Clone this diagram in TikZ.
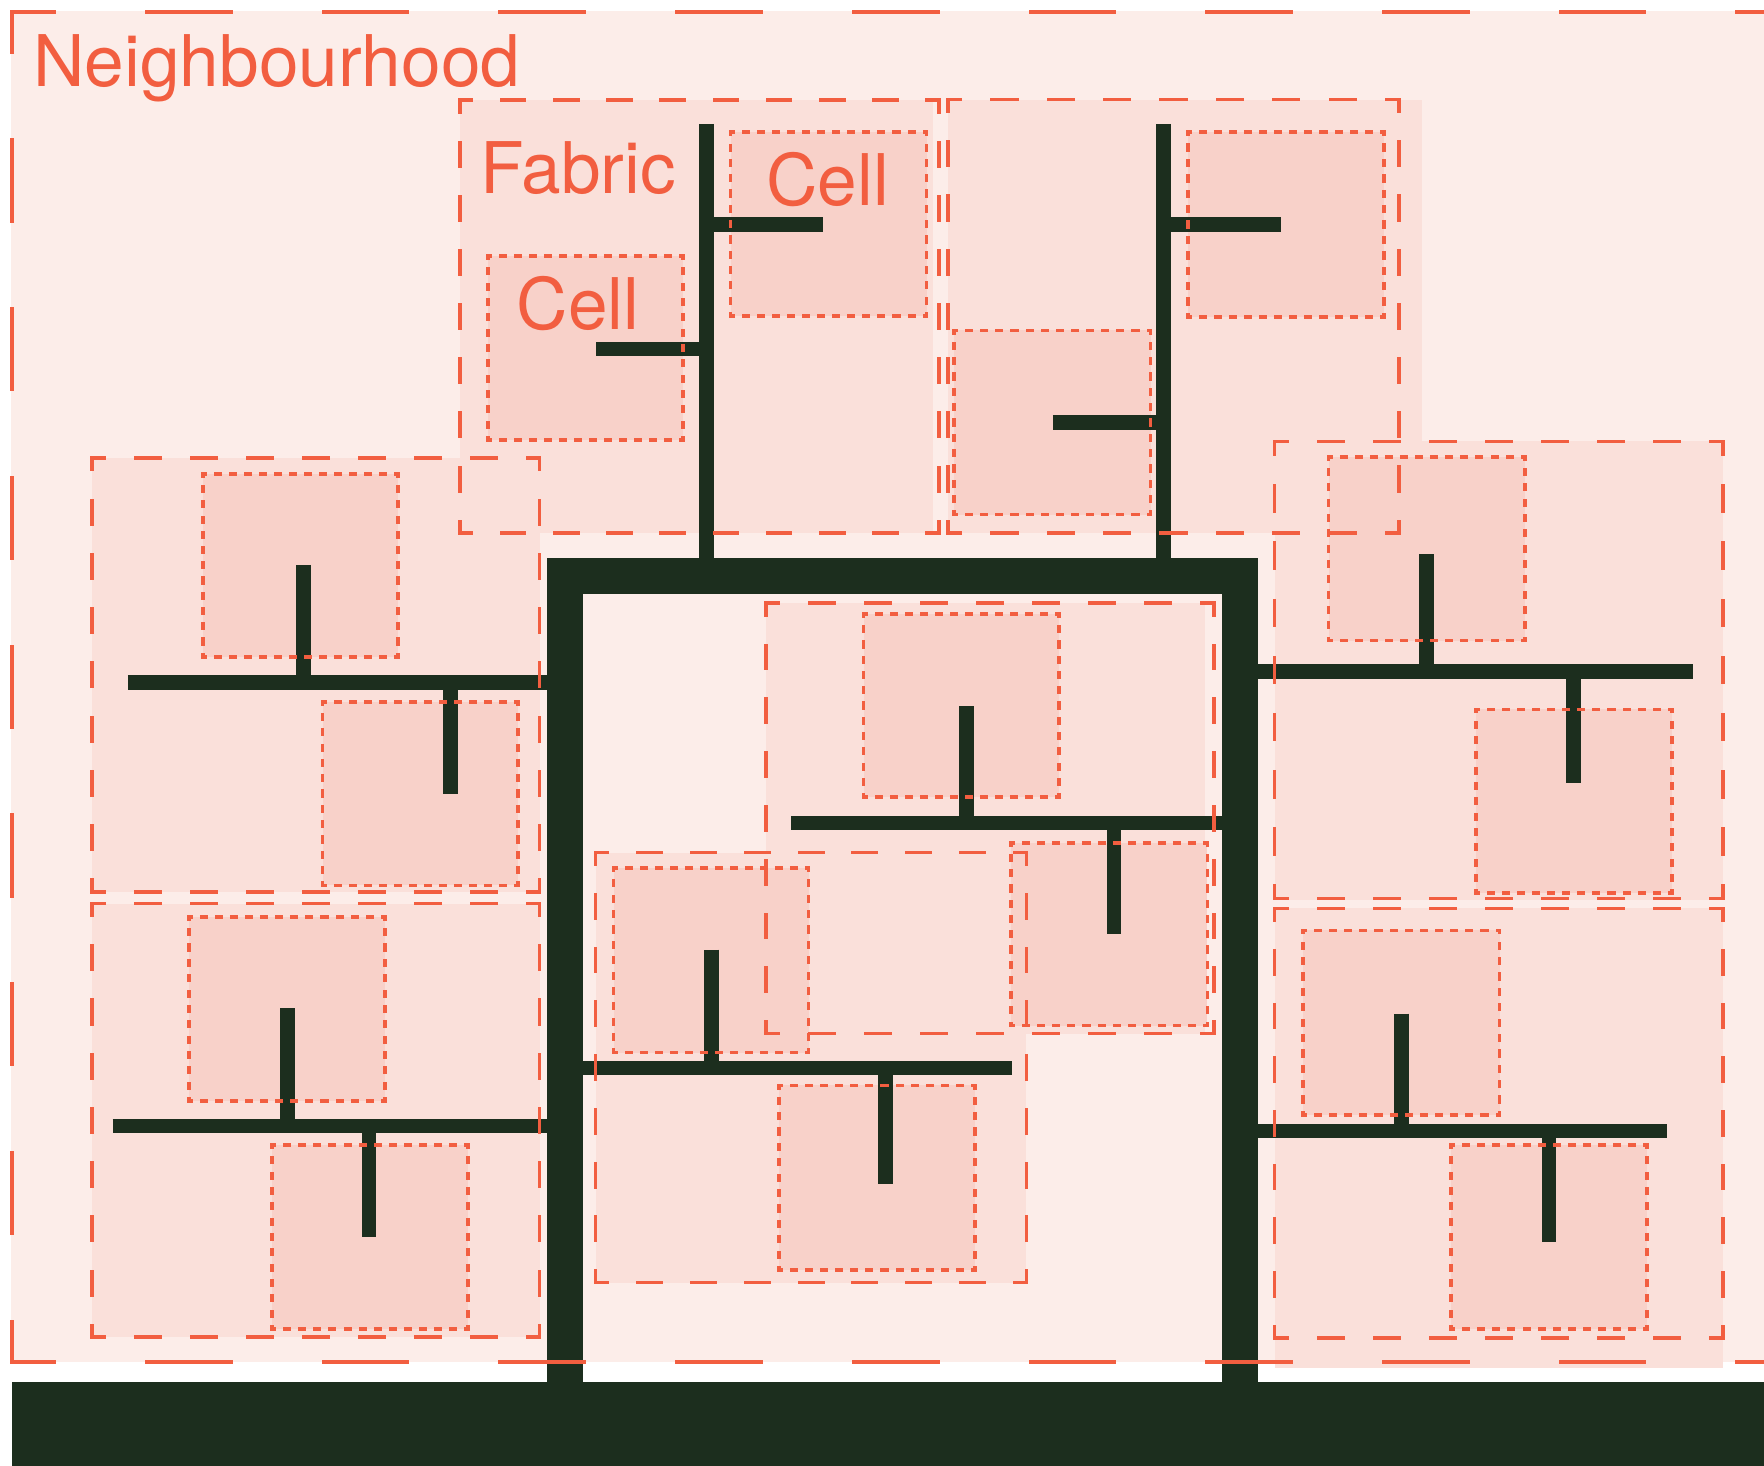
\documentclass[tikz,border=0pt]{standalone}
\usepackage{fontspec}
\setmainfont{TeX Gyre Heros}
\definecolor{nbfill}{HTML}{FCEDE9}
\definecolor{blkfill}{HTML}{FAE0DA}
\definecolor{cellfill}{HTML}{F8D1C9}
\definecolor{accent}{HTML}{F25E40}
\definecolor{ink}{HTML}{1C2E1E}
\tikzset{
  border/.style={draw=accent, line width=0.032cm},
  branch/.style={draw=ink, line width=0.13cm},
  frameline/.style={draw=ink, line width=0.32cm, line join=miter},
  lbl/.style={text=accent, font=\fontsize{18}{22}\selectfont, inner sep=0pt, anchor=base west},
}
% one side of a box, dashes aligned to the corners
\newcommand\cside[6]{%
  \pgfmathsetmacro\csL{abs(#3-#1)+abs(#4-#2)}%
  \pgfmathsetmacro\csN{max(1,round(\csL/(#5+#6)))}%
  \pgfmathsetmacro\csS{\csL/(\csN*(#5+#6))}%
  \pgfmathsetmacro\csOn{(#5*\csS-3.2)*0.01}%
  \pgfmathsetmacro\csOff{(#6*\csS+3.2)*0.01}%
  \pgfmathsetmacro\csPh{0.5*\csOn}%
  \draw[border, line cap=rect, dash pattern=on \csOn cm off \csOff cm, dash phase=\csPh cm] (#1,#2) -- (#3,#4);%
}
\newcommand\cbox[6]{%
  \cside{#1}{#2}{#3}{#2}{#5}{#6}%
  \cside{#3}{#2}{#3}{#4}{#5}{#6}%
  \cside{#1}{#4}{#3}{#4}{#5}{#6}%
  \cside{#1}{#2}{#1}{#4}{#5}{#6}%
}
\newcommand\blockbox[4]{\cbox{#1}{#2}{#3}{#4}{25}{25}}
\newcommand\cellbox[4]{\cbox{#1}{#2}{#3}{#4}{7.1}{6.2}}
\begin{document}
\begin{tikzpicture}[x=0.01cm, y=-0.01cm]
\useasboundingbox (0,0) rectangle (1568,1303);
\clip (0,0) rectangle (1568,1303);
% ---------- fills ----------
\fill[nbfill] (10,9.5) rectangle (1600,1210.4);
\fill[blkfill] (408.9,89) rectangle (829.6,474);      % fabric 1
\fill[blkfill] (842.7,88.5) rectangle (1264,474);     % fabric 2
\fill[blkfill] (81.9,407) rectangle (480.4,792.7);    % left block 1
\fill[blkfill] (81.9,803.2) rectangle (480.4,1188.7); % left block 2
\fill[blkfill] (1133,392.4) rectangle (1531.6,800);   % right block 1
\fill[blkfill] (1133,806.7) rectangle (1531.6,1215.7);% right block 2
\fill[blkfill] (681.1,536.2) rectangle (1071.3,918.7);% middle block A
\fill[blkfill] (529.5,757.8) rectangle (912.4,1140.1);% middle block B
% cells
\fill[cellfill] (433.8,227.6) rectangle (607.1,391.1);
\fill[cellfill] (649.5,117.6) rectangle (823.7,280.9);
\fill[cellfill] (1056,117.5) rectangle (1230,281.8);
\fill[cellfill] (848,293.7) rectangle (1022.8,457.4);
\fill[cellfill] (180.3,421.2) rectangle (353.7,583.8);
\fill[cellfill] (286.7,623.8) rectangle (460.3,787);
\fill[cellfill] (168,815) rectangle (342,978.7);
\fill[cellfill] (242,1017.8) rectangle (416,1181.3);
\fill[cellfill] (1181,406) rectangle (1355.3,569.5);
\fill[cellfill] (1312,630.5) rectangle (1486,794);
\fill[cellfill] (1158,827) rectangle (1333,991.1);
\fill[cellfill] (1290,1017.8) rectangle (1464,1181.3);
\fill[cellfill] (767.6,545.7) rectangle (941.1,708.6);
\fill[cellfill] (898.6,749.2) rectangle (1073.2,911.7);
\fill[cellfill] (545.4,771.5) rectangle (718.8,935.6);
\fill[cellfill] (692.2,964.8) rectangle (866.8,1128.9);
% ---------- dark structure ----------
\fill[ink] (11,1228.7) rectangle (1600,1320);
\draw[frameline] (502.6,1240) -- (502.6,511.8) -- (1102.4,511.8) -- (1102.4,1240);
% fabric 1
\draw[branch] (627.8,110.2) -- (627.8,511.8);
\draw[branch] (627.8,199.6) -- (731.9,199.6);
\draw[branch] (529.8,310.3) -- (627.8,310.3);
% fabric 2
\draw[branch] (1034.5,110.2) -- (1034.5,511.8);
\draw[branch] (1034.5,199.5) -- (1138.6,199.5);
\draw[branch] (935.8,375.6) -- (1034.5,375.6);
% left block 1
\draw[branch] (113.7,606.4) -- (502.6,606.4);
\draw[branch] (269.5,502.2) -- (269.5,606.4);
\draw[branch] (400.2,606.4) -- (400.2,705.4);
% left block 2
\draw[branch] (100,1000.9) -- (502.6,1000.9);
\draw[branch] (255.5,896) -- (255.5,1000.9);
\draw[branch] (328,1000.9) -- (328,1099.3);
% right block 1
\draw[branch] (1102.4,597.1) -- (1504.5,597.1);
\draw[branch] (1268.2,492.7) -- (1268.2,597.1);
\draw[branch] (1398.9,597.1) -- (1398.9,695.6);
% right block 2
\draw[branch] (1102.4,1005.2) -- (1482,1005.2);
\draw[branch] (1245.5,901) -- (1245.5,1005.2);
\draw[branch] (1377,1005.2) -- (1377,1104);
% middle block A
\draw[branch] (703.3,731.6) -- (1102.4,731.6);
\draw[branch] (859.3,627.6) -- (859.3,731.6);
\draw[branch] (990.3,731.6) -- (990.3,830.1);
% middle block B
\draw[branch] (502.6,949.2) -- (899.4,949.2);
\draw[branch] (632.3,844.1) -- (632.3,949.2);
\draw[branch] (786.9,949.2) -- (786.9,1052.7);
% ---------- borders ----------
% neighbourhood
\draw[border, line cap=rect, dash pattern=on 0.748cm off 0.822cm, dash phase=0.374cm] (10.7,10.4) -- (1600,10.4);
\draw[border, line cap=rect, dash pattern=on 0.748cm off 0.822cm, dash phase=0.374cm] (10.7,1210.4) -- (1600,1210.4);
\cside{10.7}{10.4}{10.7}{1210.4}{75}{75}
% fabrics and blocks
\blockbox{408.9}{89}{834.4}{474}
\blockbox{842.7}{88.5}{1243.7}{474}
\blockbox{81.9}{407}{479.7}{792.7}
\blockbox{81.9}{803.2}{479.7}{1188.7}
\blockbox{1133}{392.4}{1531.6}{798.7}
\blockbox{1133}{807.6}{1531.6}{1189.4}
\blockbox{681.1}{536.2}{1079.1}{918.7}
\blockbox{529.5}{757.8}{912.4}{1140.1}
% cells
\cellbox{433.8}{227.6}{607.1}{391.1}
\cellbox{649.5}{117.6}{823.7}{280.9}
\cellbox{1056}{117.5}{1230}{281.8}
\cellbox{848}{293.7}{1022.8}{457.4}
\cellbox{180.3}{421.2}{353.7}{583.8}
\cellbox{286.7}{623.8}{460.3}{787}
\cellbox{168}{815}{342}{978.7}
\cellbox{242}{1017.8}{416}{1181.3}
\cellbox{1181}{406}{1355.3}{569.5}
\cellbox{1312}{630.5}{1486}{794}
\cellbox{1158}{827}{1333}{991.1}
\cellbox{1290}{1017.8}{1464}{1181.3}
\cellbox{767.6}{545.7}{941.1}{708.6}
\cellbox{898.6}{749.2}{1073.2}{911.7}
\cellbox{545.4}{771.5}{718.8}{935.6}
\cellbox{692.2}{964.8}{866.8}{1128.9}
% ---------- labels ----------
\node[lbl] (nbhd) at (29,77.1) {Neighbourhood};
\node[lbl] (fabric) at (426.5,172.4) {Fabric};
\node[lbl] (cellA) at (458.7,293.3) {Cell};
\node[lbl] (cellB) at (680.4,183.1) {Cell};
\end{tikzpicture}
\end{document}
